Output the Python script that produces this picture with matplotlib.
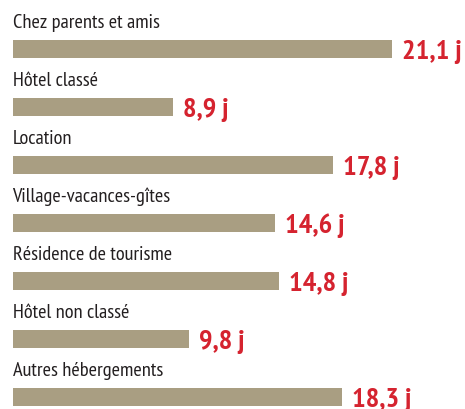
import matplotlib
matplotlib.use("Agg")
import matplotlib.pyplot as plt
from matplotlib import font_manager as fm

categories = ["Chez parents et amis", "Hôtel classé", "Location", "Village-vacances-gîtes",
              "Résidence de tourisme", "Hôtel non classé", "Autres hébergements"]
values = [21.1, 8.9, 17.8, 14.6, 14.8, 9.8, 18.3]
value_labels = ["21,1 j", "8,9 j", "17,8 j", "14,6 j", "14,8 j", "9,8 j", "18,3 j"]

names = {f.name for f in fm.fontManager.ttflist}
fam = "DejaVu Sans"
for cand in ["PT Sans Narrow", "Fira Sans Condensed", "Roboto Condensed", "Liberation Sans Narrow"]:
    if cand in names:
        fam = cand
        break

W, H = 465, 410
fig = plt.figure(figsize=(W/100, H/100), dpi=100)
x0 = 12.5
pxu = 18.0
ax = fig.add_axes([x0/W, 0, 1 - x0/W, 1])
ax.set_xlim(0, (W - x0)/pxu)
sp = 58.0
ax.set_ylim(6 + 12/sp, -50/sp)
ax.axis("off")

pos = list(range(len(categories)))
ax.barh(pos, values, height=18/sp, color="#a99e82", edgecolor="none")
for i, (c, v, vl) in enumerate(zip(categories, values, value_labels)):
    ax.text(0, i - 22/sp, c, family=fam, fontsize=14.7, color="#231f20", va="baseline", ha="left")
    ax.text(v + 10/pxu, i + 9/sp, vl, family=fam, fontsize=20.5, fontweight="bold",
            color="#d5232f", va="baseline", ha="left")
fig.savefig("out.png", dpi=100)
